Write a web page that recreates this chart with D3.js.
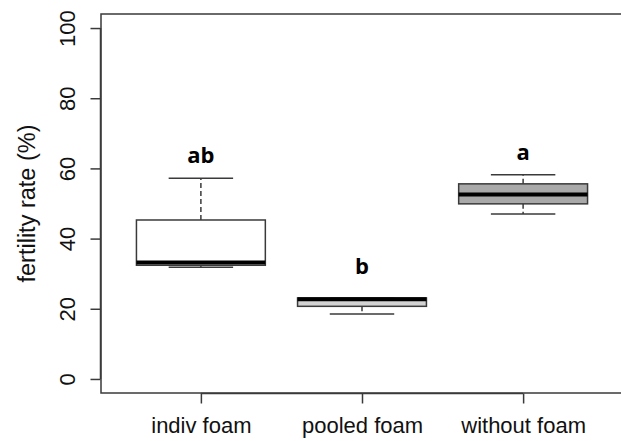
<!DOCTYPE html>
<html>
<head>
<meta charset="utf-8">
<script src="https://cdn.jsdelivr.net/npm/d3@7"></script>
<style>
  html, body { margin: 0; padding: 0; background: #fff; }
  svg { display: block; }
</style>
</head>
<body>
<svg id="chart" width="621" height="441"></svg>
<script>
// ---- data ----
const categories = ["indiv foam", "pooled foam", "without foam"];
const lowerWhisker = [31.8, 18.5, 47.0];
const q1 = [32.4, 20.7, 49.9];
const median = [33.2, 22.7, 52.6];
const q3 = [45.3, 23.1, 55.6];
const upperWhisker = [57.2, 23.1, 58.2];
const groupLetters = ["ab", "b", "a"];
const letterY = [61.5, 29.8, 62.5];
const yTicks = [0, 20, 40, 60, 80, 100];
const boxFills = ["#ffffff", "#d3d3d3", "#a9a9a9"];

// ---- layout ----
const plot = { left: 101, top: 14, right: 623, bottom: 393 };
const svg = d3.select("#chart");
const font = "'Liberation Sans', Arial, sans-serif";
const ink = "#3a3a3a";

const x = d3.scaleLinear().domain([0.38, 3.62]).range([plot.left, plot.right]);
const y = d3.scaleLinear().domain([-4, 104]).range([plot.bottom, plot.top]);

const data = categories.map((c, i) => ({
  c, i, pos: i + 1,
  lo: lowerWhisker[i], q1: q1[i], med: median[i], q3: q3[i], hi: upperWhisker[i],
  fill: boxFills[i], letter: groupLetters[i], ly: letterY[i]
}));

const boxHalf = 0.4, capHalf = 0.2;

// frame
svg.append("rect")
  .attr("x", plot.left).attr("y", plot.top)
  .attr("width", plot.right - plot.left).attr("height", plot.bottom - plot.top)
  .attr("fill", "none").attr("stroke", ink).attr("stroke-width", 1.5);

// y axis
const yAxis = d3.axisLeft(y).tickValues(yTicks).tickSize(10).tickPadding(0);
const gy = svg.append("g").attr("transform", `translate(${plot.left - 0.5},0)`).call(yAxis);
gy.select(".domain").remove();
gy.selectAll(".tick line").attr("stroke", ink).attr("stroke-width", 1.5);
gy.selectAll(".tick text").remove();
gy.selectAll(".tick").append("text")
  .attr("transform", "translate(-26,0) rotate(-90)")
  .attr("text-anchor", "middle")
  .attr("fill", "#111")
  .style("font-family", font).style("font-size", "22px")
  .text(d => d);
svg.append("line")
  .attr("x1", plot.left - 0.5).attr("x2", plot.left - 0.5)
  .attr("y1", y(0)).attr("y2", y(100))
  .attr("stroke", ink).attr("stroke-width", 1.5);

// x axis
const xAxis = d3.axisBottom(x).tickValues([1, 2, 3]).tickSize(10).tickPadding(0)
  .tickFormat(d => categories[d - 1]);
const gx = svg.append("g").attr("transform", `translate(0,${plot.bottom + 0.5})`).call(xAxis);
gx.select(".domain").remove();
gx.selectAll(".tick line").attr("stroke", ink).attr("stroke-width", 1.5);
gx.selectAll(".tick text")
  .attr("y", 39).attr("dy", 0)
  .attr("fill", "#111")
  .style("font-family", font).style("font-size", "22px");
svg.append("line")
  .attr("x1", x(1)).attr("x2", x(3))
  .attr("y1", plot.bottom + 0.5).attr("y2", plot.bottom + 0.5)
  .attr("stroke", ink).attr("stroke-width", 1.5);

// y label
svg.append("text")
  .attr("transform", `translate(35,${(plot.top + plot.bottom) / 2}) rotate(-90)`)
  .attr("text-anchor", "middle")
  .attr("fill", "#111")
  .style("font-family", font).style("font-size", "23.5px")
  .text("fertility rate (%)");

// boxes
const g = svg.append("g");
const b = g.selectAll("g.box").data(data).join("g").attr("class", "box");

// whiskers (dashed)
b.append("line")
  .attr("x1", d => x(d.pos)).attr("x2", d => x(d.pos))
  .attr("y1", d => y(d.q3)).attr("y2", d => y(d.hi))
  .attr("stroke", ink).attr("stroke-width", 1.5).attr("stroke-dasharray", "5,3");
b.append("line")
  .attr("x1", d => x(d.pos)).attr("x2", d => x(d.pos))
  .attr("y1", d => y(d.q1)).attr("y2", d => y(d.lo))
  .attr("stroke", ink).attr("stroke-width", 1.5).attr("stroke-dasharray", "5,3");
// caps
b.append("line")
  .attr("x1", d => x(d.pos - capHalf)).attr("x2", d => x(d.pos + capHalf))
  .attr("y1", d => y(d.hi)).attr("y2", d => y(d.hi))
  .attr("stroke", ink).attr("stroke-width", 1.5);
b.append("line")
  .attr("x1", d => x(d.pos - capHalf)).attr("x2", d => x(d.pos + capHalf))
  .attr("y1", d => y(d.lo)).attr("y2", d => y(d.lo))
  .attr("stroke", ink).attr("stroke-width", 1.5);
// box
b.append("rect")
  .attr("x", d => x(d.pos - boxHalf))
  .attr("width", d => x(d.pos + boxHalf) - x(d.pos - boxHalf))
  .attr("y", d => y(d.q3))
  .attr("height", d => y(d.q1) - y(d.q3))
  .attr("fill", d => d.fill)
  .attr("stroke", ink).attr("stroke-width", 1.5);
// median
b.append("line")
  .attr("x1", d => x(d.pos - boxHalf)).attr("x2", d => x(d.pos + boxHalf))
  .attr("y1", d => y(d.med)).attr("y2", d => y(d.med))
  .attr("stroke", "#000").attr("stroke-width", 4);

// significance letters
b.append("text")
  .attr("x", d => x(d.pos)).attr("y", d => y(d.ly))
  .attr("text-anchor", "middle")
  .attr("fill", "#000")
  .style("font-family", "'Open Sans', 'Liberation Sans', sans-serif")
  .style("font-weight", "bold").style("font-size", "22px")
  .text(d => d.letter);
</script>
</body>
</html>
